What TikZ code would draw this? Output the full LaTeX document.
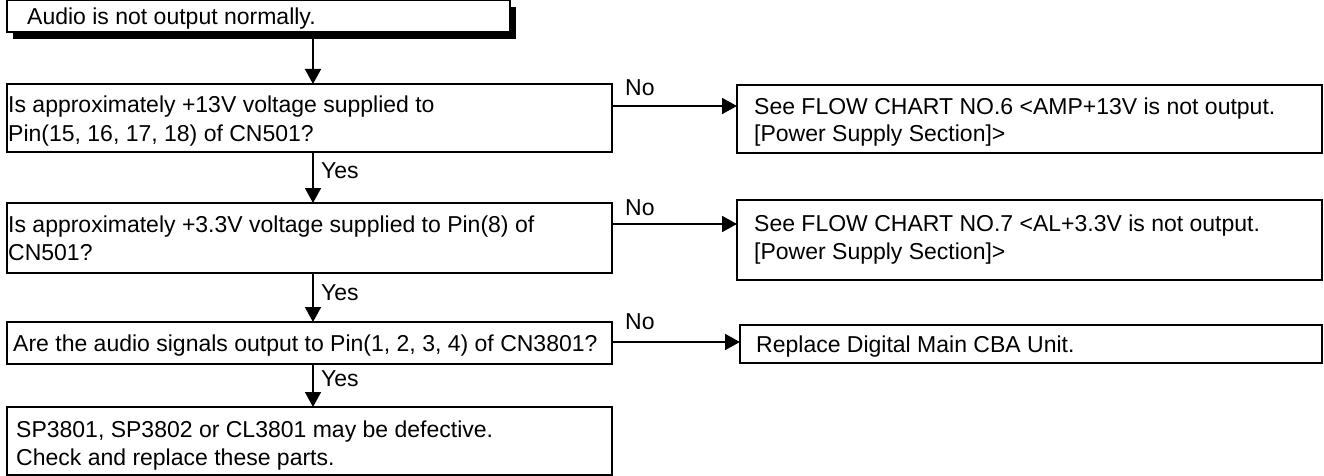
\documentclass[tikz,border=0pt]{standalone}
\usepackage{fontspec}
\setmainfont{Liberation Sans}
\usetikzlibrary{arrows.meta}
\begin{document}
\begin{tikzpicture}[x=1pt,y=-1pt,
  box/.style={draw, line width=1.6pt, fill=white, inner sep=0pt, outer sep=0pt, anchor=north west},
  txt/.style={anchor=base west, inner sep=0pt, font=\fontsize{23}{28}\selectfont},
  lbl/.style={anchor=base west, inner sep=0pt, font=\fontsize{23}{28}\selectfont},
  arr/.style={-{Triangle[length=15pt,width=16pt]}, line width=1.6pt}]
\useasboundingbox (0,0) rectangle (1324,476);
% top box with shadow
\fill[black] (13,7) rectangle (516,39);
\node[box, minimum width=503pt, minimum height=31.5pt] (top) at (7,0.5) {};
\node[txt] (t0) at (27,25) {Audio is not output normally.};
% question boxes
\node[box, minimum width=605pt, minimum height=68pt] (q1) at (7,84) {};
\node[txt] (t1a) at (8,113) {Is approximately +13V voltage supplied to};
\node[txt] (t1b) at (8,141) {Pin(15, 16, 17, 18) of CN501?};
\node[box, minimum width=605pt, minimum height=70pt] (q2) at (7,203) {};
\node[txt] (t2a) at (8,232) {Is approximately +3.3V voltage supplied to Pin(8) of};
\node[txt] (t2b) at (8,260) {CN501?};
\node[box, minimum width=605pt, minimum height=42pt] (q3) at (7,322) {};
\node[txt] (t3a) at (13,351) {Are the audio signals output to Pin(1, 2, 3, 4) of CN3801?};
\node[box, minimum width=605pt, minimum height=68pt] (q4) at (7,407) {};
\node[txt] (t4a) at (16,437) {SP3801, SP3802 or CL3801 may be defective.};
\node[txt] (t4b) at (16,465) {Check and replace these parts.};
% result boxes
\node[box, minimum width=585pt, minimum height=68pt] (r1) at (737,85) {};
\node[txt] (u1a) at (754,114) {See FLOW CHART NO.6 <AMP+13V is not output.};
\node[txt] (u1b) at (754,142) {[Power Supply Section]>};
\node[box, minimum width=585pt, minimum height=80pt] (r2) at (737,200) {};
\node[txt] (u2a) at (754,231) {See FLOW CHART NO.7 <AL+3.3V is not output.};
\node[txt] (u2b) at (754,259) {[Power Supply Section]>};
\node[box, minimum width=582pt, minimum height=38pt] (r3) at (740,325) {};
\node[txt] (u3a) at (756,352) {Replace Digital Main CBA Unit.};
% connectors
\coordinate (ax) at (313,0);
\coordinate (n1) at (0,106);
\coordinate (n2) at (0,224);
\coordinate (n3) at (0,342);
\draw[arr] (top.south -| ax) -- (q1.north -| ax);
\draw[arr] (q1.south -| ax) -- (q2.north -| ax);
\draw[arr] (q2.south -| ax) -- (q3.north -| ax);
\draw[arr] (q3.south -| ax) -- (q4.north -| ax);
\draw[arr] (q1.east |- n1) -- (r1.west |- n1);
\draw[arr] (q2.east |- n2) -- (r2.west |- n2);
\draw[arr] (q3.east |- n3) -- (r3.west |- n3);
% labels
\node[lbl] (y1) at (321,178) {Yes};
\node[lbl] (y2) at (321,300) {Yes};
\node[lbl] (y3) at (321,386) {Yes};
\node[lbl] (no1) at (625,96) {No};
\node[lbl] (no2) at (625,215) {No};
\node[lbl] (no3) at (625,329) {No};
\end{tikzpicture}
\end{document}
